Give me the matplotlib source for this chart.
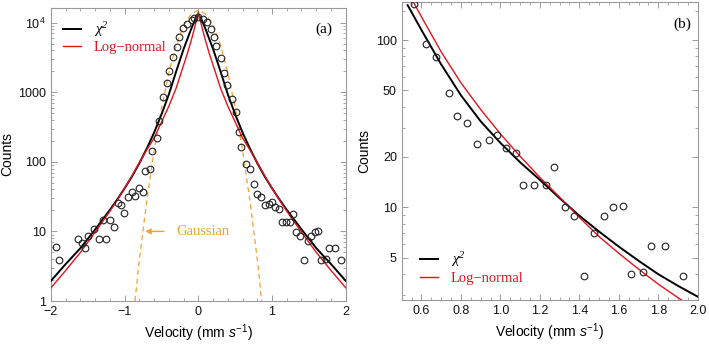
import numpy as np
import matplotlib
matplotlib.use("Agg")
import matplotlib.pyplot as plt
from matplotlib.ticker import FixedLocator, NullFormatter, MultipleLocator

plt.rcParams['font.family'] = 'Liberation Sans'
plt.rcParams['mathtext.fontset'] = 'custom'
plt.rcParams['mathtext.rm'] = 'Liberation Sans'
plt.rcParams['mathtext.it'] = 'Liberation Sans:italic'
plt.rcParams['mathtext.sf'] = 'Liberation Serif:italic'

# ---- panel (a): measured counts ----
vel_a = [-1.935, -1.886, -1.636, -1.585, -1.533, -1.500, -1.414, -1.355, -1.290, -1.249,
         -1.200, -1.150, -1.097, -1.045, -1.013, -0.955, -0.904, -0.863, -0.805, -0.755,
         -0.730, -0.660, -0.624, -0.567, -0.532, -0.477, -0.431, -0.395, -0.349, -0.284,
         -0.259, -0.205, -0.158, -0.090, -0.059, 0.000, 0.060, 0.114, 0.169, 0.218,
         0.241, 0.305, 0.350, 0.395, 0.463, 0.512, 0.555, 0.580, 0.648, 0.695,
         0.760, 0.796, 0.851, 0.898, 0.955, 1.000, 1.046, 1.091, 1.137, 1.190,
         1.240, 1.287, 1.332, 1.377, 1.437, 1.482, 1.532, 1.582, 1.630, 1.669,
         1.739, 1.773, 1.850, 1.932]
cnt_a = [5.9, 3.9, 7.8, 6.8, 5.8, 8.7, 11, 7.8, 14.4, 7.8,
         14.5, 11.7, 25.5, 23.7, 18.6, 31.2, 36.7, 32.2, 41.4, 36.8,
         74, 78, 141, 217, 390, 850, 1350, 2040, 3150, 4480,
         6280, 8350, 9390, 10860, 11700, 11970, 11200, 10100, 7980, 6250,
         4680, 3070, 1880, 1250, 805, 527, 271, 162, 94, 79,
         48, 34.7, 31.5, 23.7, 25, 26.7, 22.6, 20.8, 13.6, 13.6,
         13.6, 17.5, 9.8, 8.7, 3.9, 7.2, 8.7, 9.8, 10, 3.9,
         4.0, 5.7, 5.7, 3.85]

# fitted curves, panel (a) (symmetric, read at |v|)
absv_a = [0.0, 0.05, 0.1, 0.15, 0.2, 0.3, 0.4, 0.5, 0.6, 0.7, 0.8, 0.9, 1.0,
          1.1, 1.2, 1.4, 1.6, 1.8, 2.0]
chi2_a = [13000, 10700, 7950, 5750, 4170, 2000, 930, 480, 263, 155, 95.5, 61.7, 41.7,
          28.8, 20.4, 10.7, 5.75, 3.4, 1.95]
logn_a = [14100, 8500, 5370, 3550, 2450, 1150, 630, 372, 219, 148, 97.7, 63.1, 41.7,
          28.2, 19.5, 9.8, 5.0, 2.75, 1.55]
absv_g = [0.0, 0.1, 0.2, 0.3, 0.4, 0.5, 0.6, 0.7, 0.8, 0.86]
gauss_a = [15100, 13200, 9100, 4790, 1900, 600, 145, 27.5, 3.98, 1.0]

# ---- panel (b): tail of the distribution ----
vel_b = [0.562, 0.625, 0.676, 0.741, 0.781, 0.829, 0.880, 0.944, 0.982, 1.029,
         1.080, 1.117, 1.168, 1.233, 1.270, 1.325, 1.372, 1.423, 1.474, 1.525,
         1.572, 1.623, 1.664, 1.725, 1.762, 1.835, 1.924]
cnt_b = [164, 95, 79, 48, 35, 32, 24, 25.3, 27, 22.5,
         21, 13.6, 13.6, 13.6, 17.5, 10, 8.9, 3.9, 7.0, 8.9,
         10, 10.2, 4.0, 4.1, 5.9, 5.9, 3.9]
v_fit_b = [0.53, 0.6, 0.7, 0.8, 0.9, 1.0, 1.1, 1.2, 1.3, 1.4, 1.5, 1.6, 1.7, 1.8, 1.9, 2.0]
chi2_b = [162, 115, 71.6, 46.8, 32.7, 24.3, 18.6, 14.6, 11.35, 8.91, 7.16, 5.82, 4.79, 3.98, 3.39, 2.92]
logn_b = [195, 138, 85.1, 55.6, 38.5, 27.5, 20.2, 15.1, 11.5, 8.71, 6.68, 5.31, 4.27, 3.47, 2.88, 2.40]

red = '#e3141e'
orange = '#f5a033'
gray = '#9a9a9a'

fig = plt.figure(figsize=(7.09, 3.46), dpi=100)
axa = fig.add_axes([0.0719, 0.130, 0.4157, 0.847])
axb = fig.add_axes([0.5666, 0.133, 0.4175, 0.861])


def style(ax):
    for s in ax.spines.values():
        s.set_color(gray)
        s.set_linewidth(0.8)
    ax.tick_params(which='both', direction='in', top=True, right=True,
                   color=gray, labelsize=9, labelcolor='#111111')
    ax.tick_params(which='major', length=4, width=0.7)
    ax.tick_params(which='minor', length=2, width=0.6)


def legend(ax, handles, **kw):
    leg = ax.legend(handles=handles, labels=[r'$\mathsf{\chi}^{\mathsf{2}}$', 'Log\u2212normal'],
                    frameon=False, borderaxespad=0, borderpad=0,
                    handlelength=1.2, handletextpad=0.9,
                    prop={'family': 'Liberation Serif', 'size': 10.5}, **kw)
    leg.get_texts()[1].set_color(red)
    return leg


# panel (a)
va = np.array(absv_a)
la, = axa.plot(np.concatenate([-va[::-1], va[1:]]), np.concatenate([chi2_a[::-1], chi2_a[1:]]),
               color='black', lw=1.4, zorder=3)
lb, = axa.plot(np.concatenate([-va[::-1], va[1:]]), np.concatenate([logn_a[::-1], logn_a[1:]]),
               color=red, lw=1.0, zorder=4)
vg = np.array(absv_g)
axa.plot(np.concatenate([-vg[::-1], vg[1:]]), np.concatenate([gauss_a[::-1], gauss_a[1:]]),
         color=orange, lw=0.9, ls=(0, (4, 3)), zorder=2)
axa.plot(vel_a, cnt_a, 'o', mfc='none', mec='#222222', ms=4.8, mew=0.8, zorder=5)
axa.set_yscale('log')
axa.set_xlim(-2, 2)
axa.set_ylim(1, 16200)
axa.xaxis.set_minor_locator(MultipleLocator(0.2))
axa.set_xticks([-2, -1, 0, 1, 2], ['\u22122', '\u22121', '0', '1', '2'])
axa.yaxis.set_major_locator(FixedLocator([1, 10, 100, 1000, 10000]))
axa.set_yticklabels(['1', '10', '100', '1000', '$10^4$'])
axa.yaxis.set_minor_locator(FixedLocator([m * 10 ** d for d in range(4) for m in range(2, 10)]))
axa.yaxis.set_minor_formatter(NullFormatter())
style(axa)
axa.set_xlabel('Velocity (mm $s^{-1}$)', fontsize=10, labelpad=3)
axa.set_ylabel('Counts', fontsize=10, labelpad=3)
axa.text(1.71, 7900, '(a)', family='Liberation Serif', fontsize=11, ha='center', va='center')
axa.annotate('', xy=(-0.76, 10), xytext=(-0.43, 10),
             arrowprops=dict(arrowstyle='-|>', color=orange, lw=1.0, mutation_scale=8))
axa.text(-0.30, 10, 'Gaussian', family='Liberation Serif', fontsize=10.5, color=orange,
         ha='left', va='center')
legend(axa, [la, lb], loc='upper left', bbox_to_anchor=(0.041, 0.962), labelspacing=0.15)

# panel (b)
lc, = axb.plot(v_fit_b, chi2_b, color='black', lw=1.4, zorder=3)
ld, = axb.plot(v_fit_b, logn_b, color=red, lw=1.0, zorder=4)
axb.plot(vel_b, cnt_b, 'o', mfc='none', mec='#222222', ms=4.8, mew=0.8, zorder=5)
axb.set_yscale('log')
axb.set_xlim(0.5, 2.0)
axb.set_ylim(2.79, 169)
axb.xaxis.set_minor_locator(MultipleLocator(0.05))
axb.set_xticks([0.6, 0.8, 1.0, 1.2, 1.4, 1.6, 1.8, 2.0])
axb.yaxis.set_major_locator(FixedLocator([5, 10, 20, 50, 100]))
axb.set_yticklabels(['5', '10', '20', '50', '100'])
axb.yaxis.set_minor_locator(FixedLocator([3, 4, 6, 7, 8, 9, 30, 40, 60, 70, 80, 90, 150]))
axb.yaxis.set_minor_formatter(NullFormatter())
style(axb)
axb.set_xlabel('Velocity (mm $s^{-1}$)', fontsize=10, labelpad=3)
axb.set_ylabel('Counts', fontsize=10, labelpad=3)
axb.text(1.924, 125, '(b)', family='Liberation Serif', fontsize=11, ha='center', va='center')
legend(axb, [lc, ld], loc='lower left', bbox_to_anchor=(0.062, 0.05), labelspacing=0.2)

fig.savefig('out.png', dpi=100)
